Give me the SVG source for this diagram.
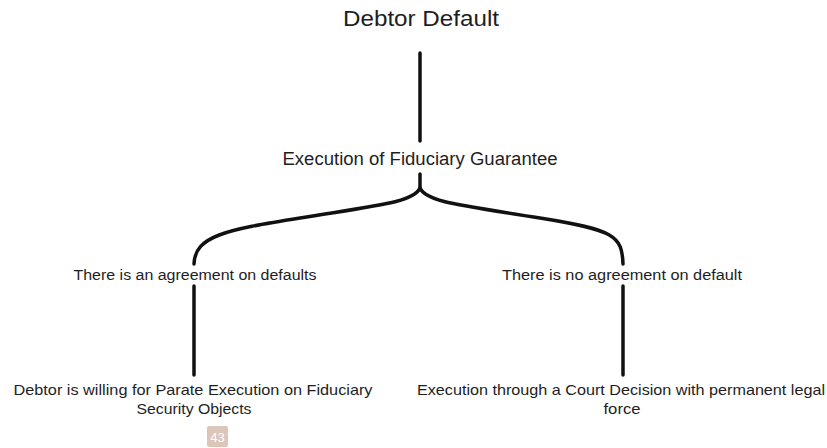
<svg xmlns="http://www.w3.org/2000/svg" width="827" height="448" viewBox="0 0 827 448">
<style>
text{font-family:"Liberation Sans","DejaVu Sans",sans-serif;fill:#1e1e1e;text-anchor:middle}
.t{font-size:15px}
.l{font-size:14px}
.c{fill:none;stroke:#111;stroke-width:3.5;stroke-linecap:round}
</style>
<rect width="827" height="448" fill="#fff"/>
<g id="connectors">
<path class="c" d="M420,53 V141"/>
<path class="c" d="M420,174 V188 C414,202 380,205 300,218 C225,230 195,236 194,264"/>
<path class="c" d="M420,188 C426,202 460,205 540,218 C615,230 622,236 623,264"/>
<path class="c" d="M194,286 V375"/>
<path class="c" d="M623,286 V375"/>
</g>
<g id="debtor-default"><text x="421" y="26" font-size="22" textLength="156" lengthAdjust="spacingAndGlyphs">Debtor Default</text></g>
<g id="execution"><text x="420" y="165" font-size="18" textLength="275" lengthAdjust="spacingAndGlyphs">Execution of Fiduciary Guarantee</text></g>
<g id="agreement"><text class="l" x="195" y="280" textLength="243" lengthAdjust="spacingAndGlyphs">There is an agreement on defaults</text></g>
<g id="no-agreement"><text class="l" x="622" y="280" textLength="240" lengthAdjust="spacingAndGlyphs">There is no agreement on default</text></g>
<g id="parate"><text class="t" x="193" y="395" textLength="359" lengthAdjust="spacingAndGlyphs">Debtor is willing for Parate Execution on Fiduciary</text><text class="t" x="194" y="414" textLength="115" lengthAdjust="spacingAndGlyphs">Security Objects</text></g>
<g id="court"><text class="t" x="621" y="395" textLength="408" lengthAdjust="spacingAndGlyphs">Execution through a Court Decision with permanent legal</text><text class="t" x="622" y="414" textLength="37" lengthAdjust="spacingAndGlyphs">force</text></g>
<g id="page"><rect x="207" y="426" width="21" height="21" rx="2" fill="#dcc6b9"/><text x="217.5" y="441.5" font-size="13" style="fill:#fff">43</text></g>
</svg>
